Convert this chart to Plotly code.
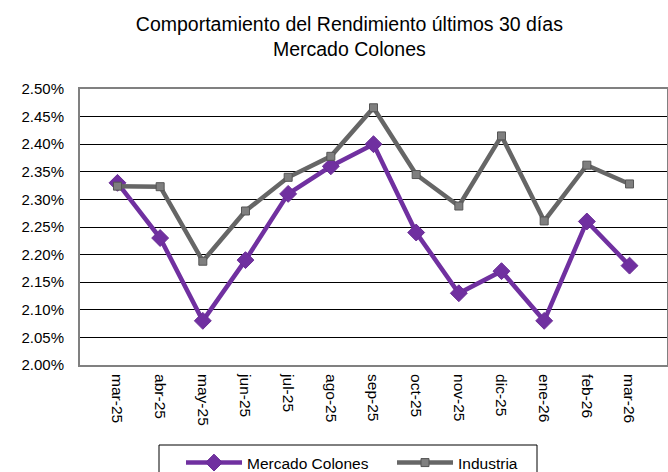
import plotly.graph_objects as go

months = ["mar-25", "abr-25", "may-25", "jun-25", "jul-25", "ago-25", "sep-25",
          "oct-25", "nov-25", "dic-25", "ene-26", "feb-26", "mar-26"]
mercado = [2.33, 2.23, 2.08, 2.19, 2.31, 2.36, 2.40, 2.24, 2.13, 2.17, 2.08, 2.26, 2.18]
industria = [2.324, 2.323, 2.188, 2.279, 2.340, 2.378, 2.466, 2.345, 2.288, 2.415, 2.261, 2.362, 2.328]
yticks = [2.00, 2.05, 2.10, 2.15, 2.20, 2.25, 2.30, 2.35, 2.40, 2.45, 2.50]

fig = go.Figure()
fig.add_trace(go.Scatter(
    x=months, y=mercado, name="Mercado Colones", mode="lines+markers",
    line=dict(color="#7030A0", width=4.5),
    marker=dict(symbol="diamond", size=13, color="#7030A0",
                line=dict(color="#6a2d96", width=1))))
fig.add_trace(go.Scatter(
    x=months, y=industria, name="Industria", mode="lines+markers",
    line=dict(color="#666666", width=4.5),
    marker=dict(symbol="square", size=8, color="#7f7f7f",
                line=dict(color="#555555", width=1))))

# legend frame (extends below the visible area, as in the reference)
fig.add_shape(type="rect", xref="paper", yref="paper",
              x0=(159 - 80) / 587, x1=(537 - 80) / 587,
              y0=-(445 - 365) / 276, y1=-(490 - 365) / 276,
              line=dict(color="black", width=1), fillcolor="white", layer="below")

fig.update_layout(
    width=668, height=472,
    margin=dict(l=80, r=1, t=89, b=107),
    paper_bgcolor="white", plot_bgcolor="white",
    font=dict(family="Liberation Sans, Arial, sans-serif", size=15, color="black"),
    title=dict(text="Comportamiento del Rendimiento últimos 30 días<br>Mercado Colones",
               x=0.523, xanchor="center", y=0.935, yanchor="top",
               font=dict(size=19.5, color="black")),
    showlegend=True,
    legend=dict(orientation="h", xref="container", yref="container",
                x=181/668, xanchor="left", y=1 - 446/472, yanchor="top",
                borderwidth=0, bgcolor="rgba(0,0,0,0)",
                font=dict(size=15.5), entrywidth=140, itemwidth=56),
    xaxis=dict(type="category", tickangle=90, showgrid=False, automargin=False,
               showline=True, linecolor="#808080", linewidth=2, mirror=True,
               ticks="", tickfont=dict(size=15.5), ticklabelstandoff=4),
    yaxis=dict(range=[2.0, 2.5], tickvals=yticks, automargin=False,
               ticktext=[f"{v:.2f}%" for v in yticks],
               showgrid=True, gridcolor="black", gridwidth=1,
               showline=True, linecolor="#808080", linewidth=2, mirror=True,
               ticks="", tickfont=dict(size=15), zeroline=False,
               ticklabelstandoff=11),
)

fig.write_html("out.html", config={"displayModeBar": False},
               post_script="document.body.style.margin='0px';document.body.style.overflow='hidden';")
